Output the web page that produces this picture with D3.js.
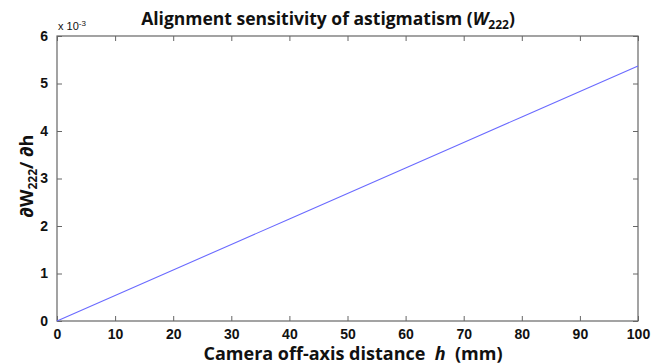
<!DOCTYPE html>
<html>
<head>
<meta charset="utf-8">
<style>
    body { margin: 0; background: #fff; }
    svg { display: block; }
</style>
</head>
<body>
<svg width="661" height="364"></svg>
<script src="https://d3js.org/d3.v7.min.js"></script>
<script>
    // data
    var hValues = [0, 10, 20, 30, 40, 50, 60, 70, 80, 90, 100];
    var dW222 = [0, 0.000537, 0.001074, 0.001611, 0.002148, 0.002685, 0.003222, 0.003759, 0.004296, 0.004833, 0.00537];
    var xTicks = [0, 10, 20, 30, 40, 50, 60, 70, 80, 90, 100];
    var yTicks = [0, 1, 2, 3, 4, 5, 6];
    var yScaleExp = -3;

    var svg = d3.select("svg"),
        margin = {left: 57, right: 23, top: 36, bottom: 43},
        width = 661 - margin.left - margin.right,
        height = 364 - margin.top - margin.bottom;

    var x = d3.scaleLinear().domain([0, 100]).range([margin.left, margin.left + width]);
    var y = d3.scaleLinear().domain([0, 6]).range([margin.top + height, margin.top]);

    var axisColor = "#666";

    // frame
    svg.append("rect")
        .attr("x", margin.left).attr("y", margin.top)
        .attr("width", width).attr("height", height)
        .attr("fill", "none").attr("stroke", axisColor).attr("stroke-width", 1.2);

    function styleAxis(g) {
        g.attr("font-family", "Arial, 'Liberation Sans', sans-serif")
            .attr("font-size", 14)
            .attr("font-weight", "bold");
        g.select(".domain").remove();
        g.selectAll(".tick line").attr("stroke", axisColor);
        g.selectAll(".tick text").attr("fill", "#111");
    }

    svg.append("g")
        .attr("transform", "translate(0," + (margin.top + height) + ")")
        .call(d3.axisBottom(x).tickValues(xTicks).tickSizeInner(-5).tickPadding(8).tickFormat(d3.format("d")))
        .call(styleAxis);
    svg.append("g")
        .attr("transform", "translate(0," + margin.top + ")")
        .call(d3.axisTop(x).tickValues(xTicks).tickSizeInner(-5).tickFormat(""))
        .call(styleAxis);
    svg.append("g")
        .attr("transform", "translate(" + margin.left + ",0)")
        .call(d3.axisLeft(y).tickValues(yTicks).tickSizeInner(-5).tickPadding(9).tickFormat(d3.format("d")))
        .call(styleAxis);
    svg.append("g")
        .attr("transform", "translate(" + (margin.left + width) + ",0)")
        .call(d3.axisRight(y).tickValues(yTicks).tickSizeInner(-5).tickFormat(""))
        .call(styleAxis);

    // exponent label
    var ex = svg.append("text")
        .attr("x", margin.left + 1).attr("y", 30)
        .style("font", "11px Arial, 'Liberation Sans', sans-serif").attr("fill", "#111");
    ex.append("tspan").text("x 10");
    ex.append("tspan").attr("dy", -4).style("font-size", "8px").text(yScaleExp);

    // the line
    var line = d3.line()
        .x(function(d, i) { return x(hValues[i]); })
        .y(function(d) { return y(d / Math.pow(10, yScaleExp)); });
    svg.append("path")
        .datum(dW222)
        .attr("fill", "none")
        .attr("stroke", "#6a6aff")
        .attr("stroke-width", 1.1)
        .attr("d", line);

    // title
    var title = svg.append("text")
        .attr("x", 328).attr("y", 25)
        .attr("text-anchor", "middle")
        .style("font", "bold 17.5px 'Open Sans', sans-serif").attr("fill", "#111");
    title.append("tspan").text("Alignment sensitivity of astigmatism (");
    title.append("tspan").style("font-style", "italic").text("W");
    title.append("tspan").attr("dy", 4).style("font-size", "12px").text("222");
    title.append("tspan").attr("dy", -4).text(")");

    // x label
    var xl = svg.append("text")
        .attr("x", 353).attr("y", 360)
        .attr("text-anchor", "middle")
        .attr("xml:space", "preserve")
        .style("font", "bold 18px 'Open Sans', sans-serif").attr("fill", "#111");
    xl.append("tspan").text("Camera off-axis distance  ");
    xl.append("tspan").style("font-style", "italic").text("h");
    xl.append("tspan").text("  (mm)");

    // y label
    var yl = svg.append("text")
        .attr("transform", "translate(33,176) rotate(-90)")
        .attr("text-anchor", "middle")
        .style("font", "bold 18px 'Open Sans', sans-serif").attr("fill", "#111");
    yl.append("tspan").text("\u2202W");
    yl.append("tspan").attr("dy", 4).style("font-size", "12px").text("222");
    yl.append("tspan").attr("dy", -4).text("/ \u2202h");
</script>
</body>
</html>
